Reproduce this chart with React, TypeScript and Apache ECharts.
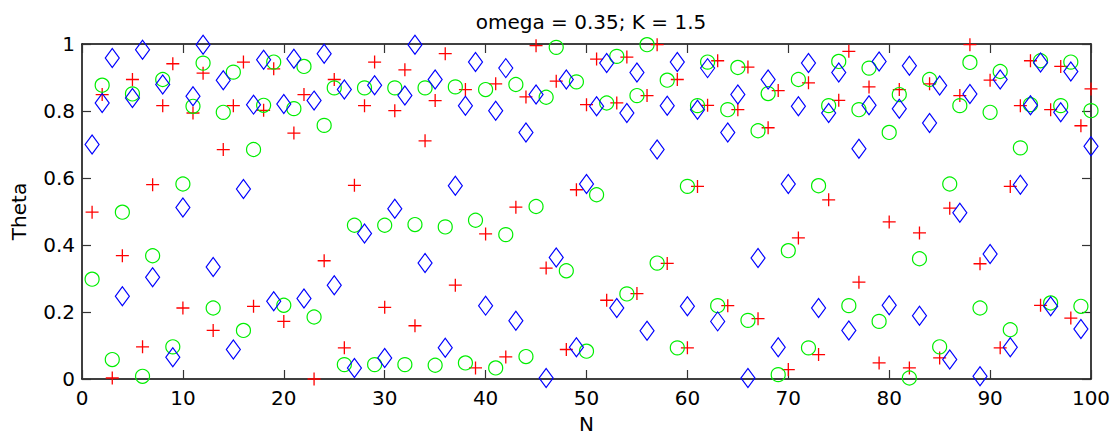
import React, { useEffect, useRef } from "react";
import * as echarts from "echarts";

// Sample index N = 1..100
const nValues: number[] = Array.from({ length: 100 }, (_, i) => i + 1);

// Theta of the first oscillator (red plus)
const thetaRed: number[] = [
  0.498, 0.849, 0.003, 0.368, 0.894, 0.096, 0.580, 0.816, 0.941, 0.212,
  0.794, 0.913, 0.145, 0.685, 0.816, 0.946, 0.217, 0.802, 0.926, 0.172,
  0.734, 0.849, 0.000, 0.353, 0.894, 0.093, 0.578, 0.816, 0.946, 0.214,
  0.801, 0.923, 0.159, 0.711, 0.831, 0.971, 0.280, 0.864, 0.033, 0.433,
  0.881, 0.066, 0.513, 0.842, 0.995, 0.331, 0.889, 0.088, 0.565, 0.819,
  0.955, 0.235, 0.824, 0.961, 0.255, 0.846, 0.998, 0.345, 0.894, 0.093,
  0.575, 0.817, 0.950, 0.219, 0.804, 0.931, 0.180, 0.750, 0.861, 0.028,
  0.421, 0.884, 0.073, 0.535, 0.832, 0.978, 0.289, 0.872, 0.048, 0.469,
  0.864, 0.033, 0.436, 0.881, 0.063, 0.510, 0.846, 0.998, 0.344, 0.892,
  0.093, 0.575, 0.816, 0.950, 0.220, 0.804, 0.933, 0.182, 0.756, 0.866,
];

// Theta of the second oscillator (green circles)
const thetaGreen: number[] = [
  0.298, 0.877, 0.058, 0.498, 0.851, 0.008, 0.368, 0.894, 0.096, 0.582,
  0.814, 0.943, 0.212, 0.796, 0.916, 0.145, 0.685, 0.817, 0.946, 0.220,
  0.807, 0.933, 0.185, 0.757, 0.869, 0.043, 0.459, 0.869, 0.043, 0.459,
  0.869, 0.043, 0.461, 0.869, 0.041, 0.454, 0.872, 0.048, 0.474, 0.864,
  0.033, 0.431, 0.879, 0.067, 0.515, 0.841, 0.990, 0.323, 0.887, 0.083,
  0.550, 0.824, 0.963, 0.254, 0.846, 0.998, 0.346, 0.892, 0.093, 0.575,
  0.816, 0.946, 0.219, 0.804, 0.930, 0.175, 0.741, 0.852, 0.013, 0.383,
  0.894, 0.093, 0.577, 0.816, 0.948, 0.219, 0.804, 0.928, 0.172, 0.736,
  0.849, 0.003, 0.359, 0.894, 0.096, 0.582, 0.816, 0.945, 0.212, 0.796,
  0.918, 0.147, 0.690, 0.819, 0.950, 0.227, 0.816, 0.946, 0.217, 0.801,
];

// Theta of the third oscillator (blue diamonds)
const thetaBlue: number[] = [
  0.700, 0.824, 0.958, 0.247, 0.839, 0.983, 0.304, 0.879, 0.065, 0.512,
  0.844, 0.998, 0.334, 0.892, 0.088, 0.567, 0.819, 0.953, 0.232, 0.821,
  0.956, 0.240, 0.831, 0.971, 0.280, 0.864, 0.033, 0.434, 0.877, 0.063,
  0.508, 0.846, 0.998, 0.346, 0.894, 0.093, 0.577, 0.816, 0.946, 0.219,
  0.801, 0.928, 0.174, 0.736, 0.849, 0.003, 0.363, 0.894, 0.095, 0.582,
  0.814, 0.943, 0.212, 0.794, 0.915, 0.144, 0.685, 0.816, 0.946, 0.217,
  0.804, 0.928, 0.172, 0.736, 0.849, 0.003, 0.361, 0.894, 0.095, 0.582,
  0.814, 0.943, 0.212, 0.794, 0.915, 0.145, 0.687, 0.817, 0.948, 0.220,
  0.807, 0.935, 0.189, 0.764, 0.876, 0.058, 0.496, 0.851, 0.008, 0.373,
  0.894, 0.095, 0.580, 0.817, 0.945, 0.217, 0.796, 0.918, 0.149, 0.695,
];

const titleText = "omega = 0.35; K = 1.5";
const xName = "N";
const yName = "Theta";

const FONT = "'DejaVu Sans', 'Liberation Sans', Arial, sans-serif";
const PLUS_PATH = "path://M0,7L14,7M7,0L7,14";

const pairs = (ys: number[]) => nValues.map((n, i) => [n, ys[i]]);

const tickStyle = { show: true, inside: true, length: 9, lineStyle: { color: "#333", width: 1.2 } };
const lineStyle = { show: true, onZero: false, lineStyle: { color: "#000", width: 1.5 } };

export default function App() {
  const ref = useRef<HTMLDivElement>(null);

  useEffect(() => {
    if (!ref.current) return;
    const chart = echarts.init(ref.current, undefined, { renderer: "svg" });
    chart.setOption({
      animation: false,
      backgroundColor: "#fff",
      title: {
        text: titleText,
        left: 586,
        top: 7,
        textAlign: "center",
        textStyle: { fontFamily: FONT, fontSize: 20, fontWeight: "normal", color: "#000" },
      },
      grid: { left: 82, right: 25, top: 44, bottom: 62, containLabel: false },
      xAxis: [
        {
          type: "value",
          min: 0,
          max: 100,
          interval: 10,
          position: "bottom",
          name: xName,
          nameLocation: "middle",
          nameGap: 35,
          nameTextStyle: { fontFamily: FONT, fontSize: 20, color: "#000" },
          axisLine: lineStyle,
          axisTick: tickStyle,
          splitLine: { show: false },
          axisLabel: { fontFamily: FONT, fontSize: 20, color: "#000", margin: 9 },
        },
        {
          type: "value",
          min: 0,
          max: 100,
          interval: 10,
          position: "top",
          axisLine: lineStyle,
          axisTick: tickStyle,
          splitLine: { show: false },
          axisLabel: { show: false },
        },
      ],
      yAxis: [
        {
          type: "value",
          min: 0,
          max: 1,
          interval: 0.2,
          position: "left",
          name: yName,
          nameLocation: "middle",
          nameGap: 53,
          nameTextStyle: { fontFamily: FONT, fontSize: 20, color: "#000" },
          axisLine: lineStyle,
          axisTick: tickStyle,
          splitLine: { show: false },
          axisLabel: {
            fontFamily: FONT,
            fontSize: 20,
            color: "#000",
            margin: 7,
            formatter: (v: number) => String(Number(v.toFixed(1))),
          },
        },
        {
          type: "value",
          min: 0,
          max: 1,
          interval: 0.2,
          position: "right",
          axisLine: lineStyle,
          axisTick: tickStyle,
          splitLine: { show: false },
          axisLabel: { show: false },
        },
      ],
      series: [
        {
          type: "scatter",
          xAxisIndex: 0,
          yAxisIndex: 0,
          clip: false,
          data: pairs(thetaRed),
          symbol: PLUS_PATH,
          symbolSize: 13,
          itemStyle: { color: "none", borderColor: "#ff0000", borderWidth: 1.3, opacity: 1 },
        },
        {
          type: "scatter",
          xAxisIndex: 0,
          yAxisIndex: 0,
          clip: false,
          data: pairs(thetaGreen),
          symbol: "circle",
          symbolSize: 14,
          itemStyle: { color: "none", borderColor: "#00ee00", borderWidth: 1.2, opacity: 1 },
        },
        {
          type: "scatter",
          xAxisIndex: 0,
          yAxisIndex: 0,
          clip: false,
          data: pairs(thetaBlue),
          symbol: "diamond",
          symbolSize: [14, 19],
          itemStyle: { color: "none", borderColor: "#0000ff", borderWidth: 1.2, opacity: 1 },
        },
      ],
    });
    return () => chart.dispose();
  }, []);

  return (
    <div
      ref={ref}
      style={{ position: "absolute", left: 0, top: 0, width: 1116, height: 441, background: "#fff" }}
    />
  );
}
